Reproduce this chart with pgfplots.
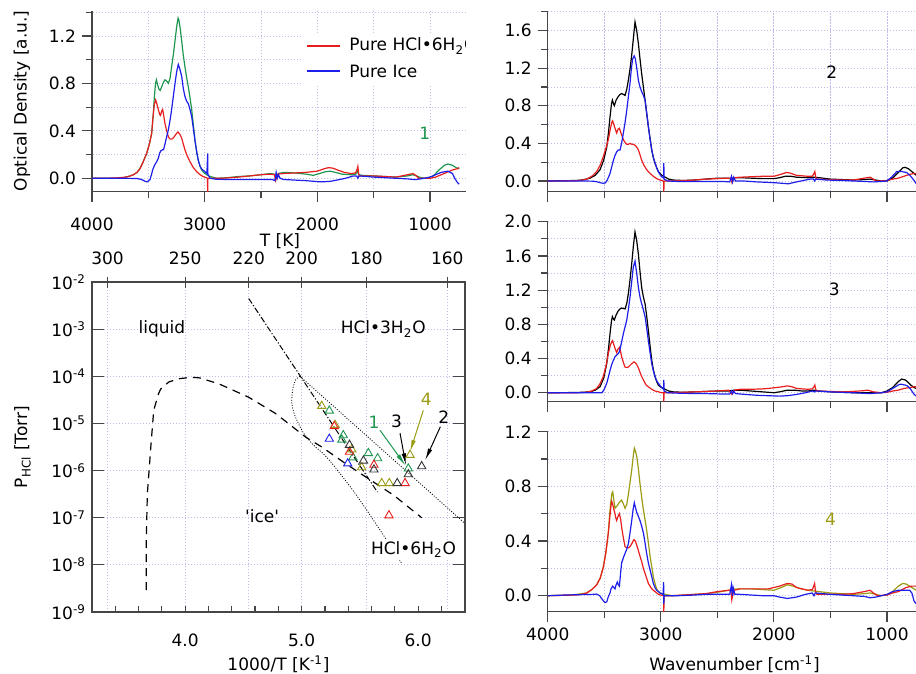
\documentclass[border=0pt]{standalone}
\usepackage{fontspec}
\setmainfont{DejaVu Sans}
\usepackage{pgfplots}
\pgfplotsset{compat=1.18}
\usetikzlibrary{arrows.meta}
\definecolor{specred}{RGB}{232,30,30}
\definecolor{specblue}{RGB}{30,30,235}
\definecolor{specgreen}{RGB}{30,150,80}
\definecolor{specolive}{RGB}{155,155,20}
\definecolor{cgrid}{RGB}{190,190,235}
\definecolor{caxis}{RGB}{70,70,70}
\pgfplotsset{
  gridst/.style={cgrid, line width=0.4pt, dash pattern=on 0.6pt off 0.9pt},
  spec/.style={
    scale only axis, x dir=reverse,
    axis x line=bottom, axis y line=left,
    axis line style={-, caxis, line width=0.75pt},
    tick style={caxis, line width=0.6pt},
    tick align=outside,
    major tick length=5pt, minor tick length=3.2pt,
    xtick={1000,2000,3000,4000}, minor xtick={500,1500,2500,3500},
    grid=both,
    major grid style={gridst}, minor grid style={gridst},
    yticklabel style={/pgf/number format/.cd, fixed, fixed zerofill, precision=1, assume math mode=true},
    every axis plot/.append style={line width=0.6pt, mark=none},
  },
}
\begin{document}
\fontsize{8.5}{10}\selectfont
\begin{tikzpicture}
% ================= Panel A (top left) =================
\begin{scope}
\clip (0pt,0pt) rectangle (233pt,-200pt);
\begin{axis}[spec, at={(46pt,-95.85pt)}, anchor=south west,
  width=187pt, height=90.35pt, xmin=680, xmax=4000, ymin=-0.113, ymax=1.41,
  ytick={0,0.4,0.8,1.2}, minor ytick={0.2,0.6,1.0,1.4},
  xticklabels={1000,2000,3000,4000},
  xticklabel style={yshift=-5pt},
]
\addplot[color=specgreen] coordinates {(4000,0) (3800,0) (3720,0.005) (3660,0.02) (3633,0.03) (3600,0.05) (3574,0.084) (3545,0.14) (3515,0.21) (3490,0.29) (3470,0.38) (3455,0.55) (3447,0.68) (3436,0.80) (3428,0.83) (3418,0.79) (3405,0.75) (3395,0.74) (3382,0.77) (3365,0.81) (3352,0.83) (3338,0.82) (3322,0.80) (3308,0.84) (3293,0.94) (3278,1.04) (3263,1.16) (3248,1.28) (3236,1.35) (3228,1.33) (3215,1.25) (3204,1.16) (3190,1.04) (3175,0.94) (3160,0.85) (3145,0.77) (3130,0.68) (3115,0.58) (3100,0.45) (3086,0.32) (3070,0.22) (3056,0.15) (3040,0.10) (3027,0.07) (3005,0.045) (2982,0.03) (2950,0.015) (2893,0.0) (2800,0.005) (2700,0.015) (2600,0.02) (2500,0.03) (2420,0.04) (2380,0.035) (2360,0.015) (2345,0.04) (2300,0.05) (2200,0.045) (2100,0.035) (2036,0.025) (1980,0.04) (1930,0.055) (1888,0.06) (1840,0.05) (1780,0.035) (1700,0.03) (1660,0.035) (1640,0.06) (1633,0.03) (1600,0.025) (1500,0.02) (1400,0.015) (1300,0.01) (1200,0.02) (1150,0.03) (1120,0.02) (1080,0.005) (1030,0.0) (970,0.02) (920,0.07) (870,0.11) (840,0.12) (800,0.11) (770,0.09) (740,0.08)};
\addplot[color=specred] coordinates {(4000,0) (3800,0.002) (3720,0.008) (3692,0.012) (3660,0.02) (3633,0.03) (3600,0.05) (3574,0.08) (3545,0.14) (3515,0.21) (3490,0.29) (3470,0.38) (3458,0.52) (3447,0.62) (3435,0.66) (3425,0.63) (3411,0.58) (3400,0.54) (3392,0.53) (3380,0.57) (3373,0.58) (3362,0.52) (3352,0.46) (3337,0.40) (3322,0.35) (3307,0.33) (3293,0.33) (3278,0.34) (3263,0.36) (3248,0.38) (3236,0.39) (3220,0.37) (3204,0.34) (3190,0.29) (3175,0.24) (3155,0.19) (3130,0.14) (3100,0.09) (3071,0.056) (3040,0.03) (3012,0.014) (2985,0.005) (2975,0.0) (2973,-0.12) (2971,0.0) (2953,0.0) (2850,0.0) (2700,0.01) (2600,0.02) (2500,0.03) (2420,0.035) (2380,0.03) (2370,-0.02) (2360,0.01) (2350,0.035) (2300,0.04) (2200,0.045) (2100,0.05) (2000,0.06) (1940,0.08) (1900,0.09) (1860,0.085) (1820,0.07) (1760,0.05) (1700,0.04) (1660,0.045) (1645,0.08) (1640,0.10) (1633,0.04) (1625,0.02) (1560,0.02) (1500,0.02) (1400,0.015) (1300,0.01) (1200,0.03) (1150,0.04) (1120,0.02) (1100,0.0) (1050,0.0) (1000,0.0) (950,0.01) (900,0.03) (850,0.05) (800,0.07) (760,0.08) (740,0.09)};
\addplot[color=specblue] coordinates {(4000,0) (3700,0) (3600,-0.002) (3560,-0.01) (3530,-0.025) (3512,-0.03) (3495,-0.02) (3485,-0.01) (3472,0.03) (3462,0.07) (3445,0.11) (3432,0.13) (3420,0.15) (3411,0.17) (3400,0.21) (3390,0.23) (3375,0.24) (3365,0.24) (3352,0.29) (3337,0.35) (3322,0.41) (3307,0.49) (3293,0.58) (3278,0.69) (3263,0.80) (3248,0.90) (3234,0.96) (3220,0.92) (3204,0.86) (3190,0.76) (3175,0.69) (3160,0.65) (3145,0.63) (3130,0.58) (3115,0.52) (3100,0.42) (3086,0.32) (3070,0.22) (3056,0.15) (3040,0.10) (3027,0.08) (3010,0.065) (2997,0.056) (2980,0.04) (2973,0.21) (2971,0.03) (2950,0.0) (2900,-0.008) (2800,-0.01) (2700,-0.01) (2600,-0.01) (2500,-0.01) (2400,-0.01) (2375,-0.02) (2365,0.05) (2355,0.0) (2345,0.03) (2330,0.0) (2300,-0.01) (2200,-0.015) (2100,-0.02) (2000,-0.028) (1950,-0.03) (1880,-0.025) (1800,-0.01) (1750,0.0) (1680,0.02) (1650,0.02) (1640,0.0) (1630,0.02) (1560,0.015) (1500,0.01) (1400,0.005) (1300,0.0) (1200,-0.005) (1150,-0.01) (1120,-0.01) (1050,0.0) (1000,0.01) (950,0.03) (900,0.05) (840,0.06) (800,0.04) (780,0.0) (760,-0.03) (740,-0.05)};
\node[text=specgreen] at (axis cs:1045,0.38) {1};
% legend (manual)
\fill[white] (axis description cs:0.561,0.597) rectangle (axis description cs:1.02,0.873);
\draw[draw=specred, line width=0.7pt] (axis description cs:0.575,0.806) -- (axis description cs:0.663,0.806);
\node[anchor=west, inner sep=0pt] at (axis description cs:0.687,0.806) {Pure HCl•6H\textsubscript{2}O};
\draw[draw=specblue, line width=0.7pt] (axis description cs:0.575,0.668) -- (axis description cs:0.663,0.668);
\node[anchor=west, inner sep=0pt] at (axis description cs:0.687,0.668) {Pure Ice};
\end{axis}
\end{scope}

% ================= Panel B (top right) =================
\begin{axis}[spec, at={(273.85pt,-95.85pt)}, anchor=south west,
  width=186.6pt, height=90pt, xmin=700, xmax=4000, ymin=-0.114, ymax=1.80,
  ytick={0,0.4,0.8,1.2,1.6}, minor ytick={0.2,0.6,1.0,1.4,1.8},
  xticklabels={},
]
\addplot[black] coordinates {(4000,0) (3750,0.005) (3699,0.01) (3660,0.02) (3626,0.03) (3580,0.06) (3537,0.12) (3505,0.22) (3478,0.36) (3462,0.52) (3449,0.68) (3436,0.82) (3428,0.86) (3418,0.82) (3411,0.80) (3395,0.86) (3375,0.90) (3360,0.92) (3346,0.93) (3330,0.92) (3316,0.91) (3300,0.98) (3287,1.07) (3272,1.19) (3257,1.34) (3242,1.52) (3228,1.69) (3213,1.60) (3198,1.46) (3184,1.30) (3169,1.14) (3154,1.00) (3139,0.86) (3125,0.72) (3110,0.58) (3095,0.45) (3080,0.33) (3066,0.25) (3051,0.19) (3036,0.14) (3022,0.10) (3000,0.07) (2977,0.05) (2930,0.02) (2889,0.01) (2800,0.005) (2700,0.01) (2600,0.02) (2500,0.03) (2400,0.03) (2370,0.02) (2360,0.035) (2300,0.035) (2200,0.03) (2100,0.025) (2000,0.025) (1950,0.035) (1900,0.05) (1850,0.05) (1800,0.04) (1700,0.035) (1650,0.04) (1600,0.035) (1500,0.02) (1400,0.015) (1300,0.01) (1200,0.015) (1150,0.02) (1100,0.01) (1050,0.0) (1000,0.0) (950,0.03) (900,0.09) (860,0.14) (840,0.145) (810,0.13) (780,0.10) (760,0.08) (740,0.06)};
\addplot[color=specred] coordinates {(4000,0) (3750,0.003) (3700,0.008) (3655,0.02) (3610,0.05) (3567,0.10) (3535,0.17) (3508,0.26) (3485,0.35) (3464,0.44) (3445,0.56) (3432,0.63) (3426,0.64) (3415,0.60) (3405,0.56) (3390,0.51) (3378,0.55) (3366,0.56) (3355,0.52) (3343,0.48) (3331,0.44) (3316,0.41) (3301,0.39) (3287,0.39) (3272,0.40) (3257,0.39) (3243,0.39) (3228,0.38) (3213,0.36) (3198,0.33) (3184,0.28) (3169,0.22) (3150,0.17) (3125,0.12) (3095,0.08) (3066,0.05) (3036,0.025) (3007,0.01) (2975,0.0) (2973,-0.11) (2971,0.0) (2900,0.0) (2800,0.005) (2700,0.01) (2600,0.02) (2500,0.025) (2420,0.03) (2380,0.03) (2370,-0.02) (2360,0.01) (2350,0.035) (2300,0.04) (2200,0.045) (2100,0.05) (2000,0.05) (1940,0.07) (1890,0.09) (1860,0.085) (1800,0.06) (1700,0.05) (1660,0.05) (1645,0.08) (1638,0.10) (1630,0.04) (1620,0.02) (1500,0.015) (1400,0.01) (1300,0.01) (1200,0.03) (1150,0.04) (1120,0.02) (1100,0.0) (1050,0.0) (1000,0.005) (950,0.02) (900,0.03) (850,0.05) (800,0.07) (760,0.08) (740,0.08)};
\addplot[color=specblue] coordinates {(4000,0) (3700,0) (3600,-0.002) (3560,-0.01) (3530,-0.02) (3508,-0.025) (3490,-0.02) (3478,0.0) (3462,0.04) (3449,0.08) (3434,0.15) (3419,0.22) (3405,0.27) (3390,0.31) (3375,0.33) (3360,0.33) (3345,0.41) (3331,0.51) (3316,0.62) (3301,0.75) (3287,0.89) (3272,1.04) (3260,1.20) (3248,1.30) (3235,1.33) (3225,1.30) (3210,1.18) (3198,1.07) (3184,1.00) (3169,0.95) (3154,0.91) (3139,0.86) (3125,0.73) (3110,0.58) (3095,0.45) (3080,0.33) (3066,0.25) (3051,0.19) (3036,0.14) (3022,0.10) (3005,0.065) (2992,0.046) (2975,0.03) (2973,0.19) (2971,0.02) (2940,0.0) (2850,-0.005) (2712,-0.005) (2600,-0.005) (2450,-0.005) (2390,-0.01) (2375,0.05) (2365,-0.01) (2355,0.04) (2340,0.0) (2270,0.0) (2150,-0.01) (2050,-0.015) (1975,-0.02) (1872,-0.03) (1800,-0.01) (1720,0.01) (1681,0.02) (1650,0.02) (1640,0.0) (1630,0.02) (1533,0.01) (1400,0.005) (1300,0.0) (1200,-0.005) (1120,-0.01) (1050,-0.005) (1003,0.0) (960,0.04) (914,0.10) (870,0.10) (826,0.09) (790,0.05) (770,0.02) (752,-0.01) (740,-0.03)};
\node at (axis cs:1489,1.16) {2};
\end{axis}

% ================= Panel C (middle right) =================
\begin{axis}[spec, at={(273.85pt,-200.85pt)}, anchor=south west,
  width=186.6pt, height=90pt, xmin=700, xmax=4000, ymin=-0.105, ymax=2.0,
  ytick={0,0.4,0.8,1.2,1.6,2.0}, minor ytick={0.2,0.6,1.0,1.4,1.8},
  xticklabels={},
]
\addplot[black] coordinates {(4000,0) (3750,0.002) (3700,0.005) (3626,0.01) (3580,0.03) (3537,0.07) (3505,0.17) (3478,0.34) (3462,0.52) (3449,0.69) (3436,0.84) (3428,0.89) (3418,0.86) (3411,0.85) (3395,0.91) (3375,0.96) (3360,0.98) (3346,0.99) (3330,0.985) (3316,0.98) (3300,1.05) (3287,1.16) (3272,1.32) (3257,1.51) (3242,1.72) (3228,1.88) (3213,1.78) (3198,1.62) (3184,1.42) (3169,1.23) (3154,1.12) (3139,1.04) (3125,0.90) (3110,0.73) (3095,0.55) (3080,0.38) (3066,0.27) (3051,0.19) (3036,0.13) (3022,0.09) (3000,0.065) (2977,0.05) (2930,0.02) (2889,0.01) (2800,0.005) (2700,0.01) (2600,0.015) (2500,0.02) (2400,0.02) (2350,0.03) (2300,0.03) (2200,0.02) (2100,0.01) (2000,0.0) (1950,0.01) (1880,0.03) (1820,0.03) (1750,0.02) (1700,0.02) (1650,0.03) (1600,0.02) (1500,0.01) (1400,0.005) (1300,0.0) (1200,0.0) (1100,0.0) (1050,0.0) (1000,0.02) (950,0.06) (900,0.13) (870,0.16) (840,0.15) (820,0.13) (790,0.09) (760,0.06) (740,0.05)};
\addplot[color=specred] coordinates {(4000,0) (3750,0.0) (3655,0.005) (3610,0.02) (3567,0.05) (3535,0.11) (3508,0.19) (3485,0.31) (3464,0.46) (3445,0.56) (3432,0.60) (3426,0.61) (3415,0.56) (3405,0.52) (3390,0.47) (3378,0.51) (3366,0.53) (3355,0.48) (3346,0.42) (3330,0.35) (3316,0.30) (3301,0.295) (3287,0.30) (3272,0.32) (3257,0.34) (3237,0.36) (3225,0.35) (3213,0.33) (3198,0.29) (3184,0.24) (3169,0.19) (3154,0.15) (3130,0.09) (3110,0.07) (3080,0.04) (3051,0.02) (3020,0.01) (2992,0.0) (2975,0.0) (2973,-0.10) (2971,0.0) (2900,0.0) (2800,0.005) (2700,0.01) (2600,0.015) (2500,0.02) (2400,0.03) (2370,-0.02) (2360,0.01) (2350,0.03) (2300,0.04) (2200,0.04) (2100,0.045) (2050,0.05) (1950,0.065) (1880,0.08) (1840,0.07) (1800,0.05) (1700,0.04) (1660,0.045) (1645,0.07) (1638,0.09) (1630,0.04) (1620,0.02) (1500,0.015) (1400,0.01) (1300,0.015) (1200,0.025) (1170,0.03) (1120,0.01) (1050,0.0) (1000,0.005) (950,0.02) (900,0.03) (850,0.05) (800,0.06) (760,0.07) (740,0.07)};
\addplot[color=specblue] coordinates {(4000,0) (3600,0) (3520,0.0) (3500,0.04) (3478,0.11) (3462,0.19) (3449,0.26) (3434,0.33) (3419,0.38) (3405,0.42) (3390,0.44) (3375,0.46) (3366,0.48) (3350,0.57) (3331,0.69) (3316,0.77) (3301,0.85) (3287,0.97) (3272,1.12) (3257,1.30) (3243,1.47) (3228,1.54) (3213,1.40) (3198,1.23) (3184,1.12) (3169,1.04) (3154,0.97) (3139,0.89) (3125,0.76) (3110,0.61) (3095,0.47) (3080,0.34) (3066,0.26) (3051,0.19) (3036,0.14) (3022,0.11) (3005,0.08) (2992,0.06) (2975,0.04) (2973,0.15) (2971,0.02) (2940,0.0) (2850,-0.005) (2700,-0.01) (2600,-0.01) (2450,-0.015) (2390,-0.015) (2375,0.02) (2365,-0.01) (2355,0.02) (2340,-0.01) (2250,-0.02) (2150,-0.03) (2050,-0.035) (1950,-0.04) (1880,-0.035) (1800,-0.02) (1720,0.0) (1660,0.02) (1640,0.01) (1630,0.02) (1500,0.01) (1400,0.005) (1300,0.0) (1150,-0.01) (1050,0.0) (1000,0.01) (950,0.05) (900,0.09) (880,0.10) (840,0.09) (820,0.08) (790,0.04) (760,-0.02) (740,-0.04)};
\node at (axis cs:1466,1.21) {3};
\end{axis}

% ================= Panel D (bottom right) =================
\begin{axis}[spec, at={(273.85pt,-305.85pt)}, anchor=south west,
  width=186.6pt, height=90pt, xmin=700, xmax=4000, ymin=-0.117, ymax=1.2,
  ytick={0,0.4,0.8,1.2}, minor ytick={0.2,0.6,1.0},
  xticklabels={1000,2000,3000,4000},
]
\addplot[color=specolive] coordinates {(4000,0) (3800,0.005) (3744,0.01) (3700,0.015) (3655,0.02) (3610,0.045) (3567,0.08) (3535,0.13) (3508,0.21) (3485,0.32) (3464,0.46) (3452,0.60) (3443,0.68) (3432,0.75) (3425,0.76) (3415,0.70) (3405,0.64) (3395,0.65) (3384,0.66) (3370,0.68) (3358,0.69) (3346,0.70) (3330,0.67) (3316,0.64) (3300,0.67) (3287,0.74) (3272,0.83) (3257,0.92) (3245,1.01) (3234,1.08) (3225,1.06) (3213,1.02) (3198,0.93) (3184,0.82) (3169,0.72) (3154,0.63) (3140,0.56) (3125,0.48) (3110,0.39) (3095,0.29) (3080,0.21) (3066,0.14) (3051,0.09) (3037,0.05) (3020,0.03) (3007,0.02) (2960,0.01) (2900,0.0) (2800,0.005) (2700,0.01) (2600,0.015) (2500,0.025) (2400,0.04) (2350,0.05) (2300,0.05) (2200,0.05) (2100,0.045) (2000,0.04) (1950,0.055) (1880,0.08) (1830,0.07) (1760,0.05) (1700,0.04) (1650,0.035) (1600,0.03) (1500,0.02) (1400,0.015) (1300,0.01) (1200,0.015) (1150,0.02) (1100,0.01) (1050,0.0) (1000,0.005) (950,0.03) (900,0.07) (860,0.09) (830,0.085) (800,0.07) (760,0.05) (740,0.04)};
\addplot[color=specred] coordinates {(4000,0) (3750,0.005) (3700,0.01) (3655,0.02) (3610,0.045) (3567,0.08) (3535,0.13) (3508,0.21) (3485,0.32) (3464,0.46) (3450,0.58) (3440,0.66) (3434,0.69) (3425,0.67) (3415,0.63) (3405,0.60) (3398,0.57) (3390,0.55) (3378,0.58) (3366,0.60) (3355,0.56) (3346,0.50) (3330,0.42) (3316,0.36) (3301,0.35) (3287,0.35) (3272,0.36) (3257,0.38) (3245,0.40) (3237,0.41) (3225,0.40) (3213,0.37) (3198,0.33) (3184,0.29) (3169,0.25) (3154,0.20) (3130,0.14) (3110,0.09) (3080,0.05) (3051,0.03) (3020,0.01) (3000,0.005) (2975,0.0) (2973,-0.12) (2971,0.0) (2900,0.0) (2800,0.005) (2700,0.01) (2600,0.015) (2500,0.03) (2400,0.04) (2380,0.035) (2372,-0.03) (2362,0.01) (2350,0.04) (2300,0.05) (2200,0.05) (2100,0.05) (2050,0.05) (1950,0.07) (1880,0.09) (1840,0.085) (1800,0.06) (1700,0.04) (1660,0.045) (1648,0.07) (1640,0.09) (1632,0.03) (1620,0.01) (1500,0.01) (1400,0.01) (1300,0.015) (1200,0.03) (1150,0.04) (1120,0.02) (1080,0.0) (1000,0.005) (950,0.02) (900,0.03) (830,0.06) (780,0.07) (760,0.07) (740,0.07)};
\addplot[color=specblue] coordinates {(4000,0) (3850,0.005) (3700,0.008) (3600,0.01) (3567,0.012) (3540,0.0) (3523,-0.02) (3505,-0.04) (3493,-0.05) (3478,-0.045) (3465,-0.01) (3449,0.02) (3440,0.05) (3425,0.07) (3415,0.06) (3405,0.05) (3395,0.08) (3384,0.10) (3375,0.08) (3366,0.07) (3356,0.16) (3346,0.24) (3330,0.28) (3316,0.31) (3301,0.34) (3287,0.38) (3272,0.46) (3257,0.55) (3245,0.63) (3234,0.68) (3225,0.65) (3213,0.61) (3198,0.58) (3184,0.55) (3169,0.51) (3154,0.46) (3140,0.39) (3125,0.31) (3110,0.24) (3095,0.19) (3080,0.14) (3066,0.09) (3051,0.06) (3037,0.04) (3020,0.03) (3007,0.02) (2980,0.01) (2975,0.10) (2973,-0.06) (2971,0.0) (2940,0.0) (2850,0.0) (2700,0.005) (2600,0.01) (2450,0.01) (2390,0.01) (2375,0.08) (2367,0.0) (2360,0.06) (2345,0.01) (2300,0.01) (2200,0.005) (2100,0.0) (2000,0.0) (1950,-0.01) (1880,-0.02) (1800,-0.01) (1720,0.01) (1660,0.02) (1645,0.0) (1635,0.02) (1500,0.01) (1400,0.005) (1300,0.0) (1200,-0.005) (1150,-0.015) (1100,-0.01) (1050,0.0) (1000,0.01) (950,0.03) (900,0.04) (870,0.04) (830,0.04) (800,0.04) (780,0.02) (760,-0.04) (740,-0.06)};
\node[text=specolive] at (axis cs:1498,0.56) {4};
\end{axis}

% ================= Phase diagram: top temperature axis =================
\begin{axis}[scale only axis, at={(46pt,-306pt)}, anchor=south west,
  width=186.4pt, height=165pt, xmin=3.2, xmax=6.4, ymin=0, ymax=1,
  axis x line*=top, axis y line=none,
  axis line style={-, caxis, line width=0.75pt},
  tick style={caxis, line width=0.6pt}, tick align=center, major tick length=5.5pt,
  xtick={3.3333,4,4.5455,5,5.5556,6.25}, xticklabels={300,250,220,200,180,160},
  xmajorgrids, major grid style={gridst},
  xticklabel style={yshift=3pt},
]
\end{axis}

% ================= Phase diagram: main =================
\begin{axis}[scale only axis, at={(46pt,-306pt)}, anchor=south west,
  width=186.4pt, height=165pt, xmin=3.2, xmax=6.4, ymode=log, ymin=1e-9, ymax=1e-2,
  axis line style={caxis, line width=0.75pt},
  tick style={caxis, line width=0.6pt}, tick align=inside,
  xtick={4,5,6}, xticklabels={4.0,5.0,6.0},
  minor xtick={3.4,3.6,3.8,4.0,4.2,4.4,4.6,4.8,5.0,5.2,5.4,5.6,5.8,6.0,6.2},
  major x tick style={draw=none},
  major tick length=6pt, minor tick length=2.8pt,
  xtick pos=bottom, ytick pos=both,
  ytick={1e-9,1e-8,1e-7,1e-6,1e-5,1e-4,1e-3,1e-2},
  yticklabels={10\textsuperscript{-9},10\textsuperscript{-8},10\textsuperscript{-7},10\textsuperscript{-6},10\textsuperscript{-5},10\textsuperscript{-4},10\textsuperscript{-3},10\textsuperscript{-2}},
  yminorticks=false,
  ymajorgrids, major grid style={gridst},
  xticklabel style={yshift=-8pt},
  every axis plot/.append style={mark=none},
]
\addplot[black, line width=0.6pt, dash pattern=on 4pt off 3pt] coordinates {(3.666,2.9e-9) (3.666,3.2e-8) (3.675,3.2e-7) (3.69,1e-6) (3.706,3.5e-6) (3.73,1.9e-5) (3.77,4.2e-5) (3.79,5.4e-5) (3.86,7.6e-5) (3.95,8.9e-5) (4.05,9.5e-5) (4.12,9.3e-5) (4.29,6.9e-5) (4.545,3.6e-5) (4.77,1.66e-5) (4.87,1.07e-5) (5.04,5.0e-6) (5.17,3.2e-6) (5.36,1.5e-6) (5.59,6.3e-7) (5.79,3.0e-7) (6.03,1e-7)};
\addplot[black, line width=0.5pt, dash pattern=on 3pt off 1pt on 0.6pt off 1pt] coordinates {(4.545,4.47e-3) (5.65,3.5e-7)};
\addplot[black, line width=0.4pt, dash pattern=on 0.5pt off 0.8pt] coordinates {(4.985,1e-4) (6.4,7.6e-8)};
\addplot[black, line width=0.4pt, dash pattern=on 0.5pt off 0.8pt, smooth] coordinates {(4.985,1e-4) (4.95,8.5e-5) (4.925,5.6e-5) (4.915,2.8e-5) (4.94,1.5e-5) (5.01,6.6e-6) (5.10,3.5e-6) (5.20,2.1e-6) (5.30,1.07e-6) (5.47,3.0e-7) (5.67,5.6e-8) (5.86,1.07e-8)};
% arrows
\addplot[color=specgreen, line width=0.5pt, -{Latex[length=6pt,width=2.2pt]}] coordinates {(5.672,7.2e-6) (5.89,1.29e-6)};
\addplot[black, line width=0.5pt, -{Latex[length=6pt,width=2.2pt]}] coordinates {(5.844,6.2e-6) (5.895,1.29e-6)};
\addplot[color=specolive, line width=0.5pt, -{Latex[length=6pt,width=2.2pt]}] coordinates {(6.044,1.9e-5) (5.93,2.5e-6)};
\addplot[black, line width=0.5pt, -{Latex[length=6pt,width=2.2pt]}] coordinates {(6.19,8.5e-6) (6.06,1.66e-6)};
% data points
\addplot[only marks, mark=triangle, mark size=2.4pt, color=specolive, mark options={line width=0.45pt}] coordinates {(5.172,2.34e-5) (5.286,9.3e-6) (5.43,2.8e-6) (5.515,1.17e-6) (5.687,5.4e-7) (5.752,5.4e-7) (5.93,2.14e-6)};
\addplot[only marks, mark=triangle, mark size=2.4pt, color=specgreen, mark options={line width=0.45pt}] coordinates {(5.237,1.86e-5) (5.357,5.6e-6) (5.345,4.5e-6) (5.44,1.9e-6) (5.572,2.34e-6) (5.652,1.82e-6) (5.915,1.10e-6)};
\addplot[only marks, mark=triangle, mark size=2.4pt, color=specred, mark options={line width=0.45pt}] coordinates {(5.28,8.7e-6) (5.41,2.5e-6) (5.62,1.32e-6) (5.887,5.4e-7) (5.749,1.12e-7)};
\addplot[only marks, mark=triangle, mark size=2.4pt, color=specblue, mark options={line width=0.45pt}] coordinates {(5.237,4.7e-6) (5.395,1.41e-6)};
\addplot[only marks, mark=triangle, mark size=2.4pt, color=black!80, mark options={line width=0.45pt}] coordinates {(5.41,3.5e-6) (5.53,1.62e-6) (5.62,1.05e-6) (5.82,5.4e-7) (5.915,8.3e-7) (6.03,1.23e-6)};
\node at (axis cs:3.8,1e-3) {liquid};
\node at (axis cs:5.70,1e-3) {HCl•3H\textsubscript{2}O};
\node at (axis cs:4.66,1.1e-7) {\textquotesingle ice\textquotesingle};
\node[fill=white, inner sep=1pt] at (axis cs:5.96,2.1e-8) {HCl•6H\textsubscript{2}O};
\node[text=specgreen] at (axis cs:5.62,1.07e-5) {1};
\node at (axis cs:5.815,1.1e-5) {3};
\node[text=specolive] at (axis cs:6.07,3.3e-5) {4};
\node at (axis cs:6.22,1.35e-5) {2};
\end{axis}

% ================= Axis titles =================
\node[rotate=90] at (11pt,-50.5pt) {Optical Density [a.u.]};
\node[rotate=90] at (11.25pt,-223.5pt) {P\textsubscript{HCl} [Torr]};
\node at (140pt,-120.35pt) {T [K]};
\node[anchor=base] at (139.25pt,-335.3pt) {1000/T [K\textsuperscript{-1}]};
\node[anchor=base] at (367.25pt,-335.3pt) {Wavenumber [cm\textsuperscript{-1}]};

\pgfresetboundingbox
\path[use as bounding box] (0pt,0pt) rectangle (458pt,-337pt);
\end{tikzpicture}
\end{document}
